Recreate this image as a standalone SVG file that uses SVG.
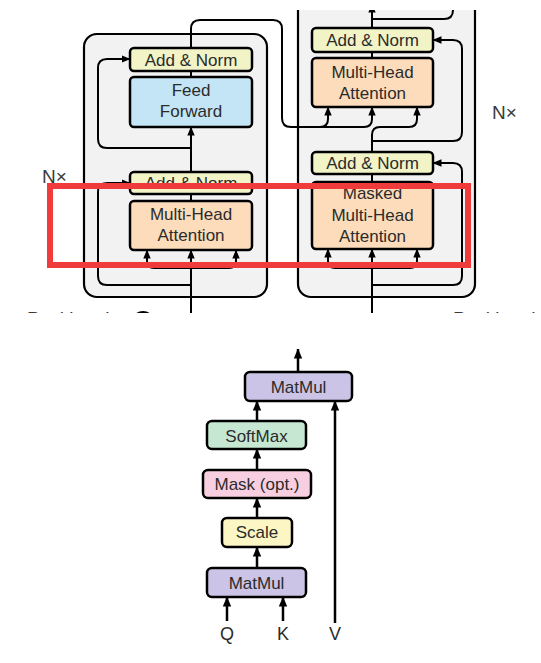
<svg xmlns="http://www.w3.org/2000/svg" width="541" height="663" viewBox="0 0 541 663">
<style>
.box{stroke:#000;stroke-width:2.5}
.outer{fill:#f2f2f2;stroke:#000;stroke-width:2.2}
.an{fill:#f2f4c7}
.ff{fill:#c4e5f5}
.mha{fill:#fcdcbb}
.mm{fill:#ccc4e6}
.sm{fill:#c6e8d3}
.mk{fill:#f8cfe1}
.sc{fill:#fcf6c4}
.ln{fill:none;stroke:#000;stroke-width:2}
.ln2{fill:none;stroke:#000;stroke-width:2.5}
.t{font-family:"Liberation Sans",Arial,sans-serif;font-size:17px;fill:#2b2b2b;text-anchor:middle}
.nx{font-family:"Liberation Sans",Arial,sans-serif;font-size:19px;fill:#3a3a3a}
</style>
<defs>
<marker id="ah" markerUnits="userSpaceOnUse" markerWidth="9" markerHeight="9" viewBox="0 0 9 9" refX="8.5" refY="4.5" orient="auto"><path d="M0,0.8 L9,4.5 L0,8.2 z" fill="#000"/></marker>
<marker id="ah2" markerUnits="userSpaceOnUse" markerWidth="10" markerHeight="10" viewBox="0 0 10 10" refX="9.5" refY="5" orient="auto"><path d="M0,0.8 L10,5 L0,9.2 z" fill="#000"/></marker>
<clipPath id="crop"><rect x="0" y="10" width="541" height="303"/></clipPath>
</defs>
<rect x="0" y="0" width="541" height="663" fill="#fff"/>
<g clip-path="url(#crop)">
<g id="encoder-block"><rect class="outer" x="84" y="34" width="183" height="263" rx="13"/></g>
<g id="decoder-block"><rect class="outer" x="298" y="-20" width="177" height="317" rx="13"/></g>
<g id="connectors-top">
<path class="ln" d="M191,313 L191,250" marker-end="url(#ah)"/>
<path class="ln" d="M191,268 L154,268 Q147,268 147,261 L147,250" marker-end="url(#ah)"/>
<path class="ln" d="M191,268 L229,268 Q236,268 236,261 L236,250" marker-end="url(#ah)"/>
<path class="ln" d="M191,285 L107,285 Q98,285 98,276 L98,192 Q98,183 107,183 L130,183" marker-end="url(#ah)"/>
<path class="ln" d="M191,201 L191,194"/>
<path class="ln" d="M191,172 L191,127" marker-end="url(#ah)"/>
<path class="ln" d="M191,148 L107,148 Q98,148 98,139 L98,68 Q98,59 107,59 L130,59" marker-end="url(#ah)"/>
<path class="ln" d="M191,77 L191,71"/>
<path class="ln" d="M191,48 L191,29 Q191,20 200,20 L273,20 Q282,20 282,29 L282,118 Q282,127 291,127 L320,127 Q328,127 328,119 L328,107" marker-end="url(#ah)"/>
<path class="ln" d="M320,127 L364,127 Q372,127 372,119 L372,107" marker-end="url(#ah)"/>
<path class="ln" d="M372,152 L372,135 Q372,127 380,127 L409,127 Q417,127 417,119 L417,107" marker-end="url(#ah)"/>
<path class="ln" d="M372,141 L453,141 Q462,141 462,132 L462,49 Q462,40 453,40 L433,40" marker-end="url(#ah)"/>
<path class="ln" d="M372,58 L372,52"/>
<path class="ln" d="M372,28 L372,4" marker-end="url(#ah)"/>
<path class="ln" d="M372,19 L444,19 Q453,19 453,10 L453,0"/>
<path class="ln" d="M372,313 L372,249" marker-end="url(#ah)"/>
<path class="ln" d="M372,268 L335,268 Q328,268 328,261 L328,249" marker-end="url(#ah)"/>
<path class="ln" d="M372,268 L410,268 Q417,268 417,261 L417,249" marker-end="url(#ah)"/>
<path class="ln" d="M372,285 L453,285 Q462,285 462,276 L462,172 Q462,163 453,163 L433,163" marker-end="url(#ah)"/>
<path class="ln" d="M372,182 L372,174"/>
<circle class="ln" cx="143" cy="323" r="11"/>
</g>
<g id="enc-addnorm2"><rect class="box an" x="130" y="48" width="122" height="23" rx="4"/><text class="t" x="191" y="66">Add &amp; Norm</text></g>
<g id="enc-ff"><rect class="box ff" x="130" y="77" width="122" height="50" rx="4"/><text class="t" x="191" y="96">Feed</text><text class="t" x="191" y="117">Forward</text></g>
<g id="enc-addnorm1"><rect class="box an" x="130" y="172" width="122" height="22" rx="4"/><text class="t" x="191" y="189">Add &amp; Norm</text></g>
<g id="enc-mha"><rect class="box mha" x="130" y="201" width="122" height="49" rx="4"/><text class="t" x="191" y="220">Multi-Head</text><text class="t" x="191" y="241">Attention</text></g>
<g id="dec-addnorm2"><rect class="box an" x="312" y="28" width="121" height="24" rx="4"/><text class="t" x="372.5" y="46">Add &amp; Norm</text></g>
<g id="dec-mha"><rect class="box mha" x="312" y="58" width="121" height="49" rx="4"/><text class="t" x="372.5" y="78">Multi-Head</text><text class="t" x="372.5" y="99">Attention</text></g>
<g id="dec-addnorm1"><rect class="box an" x="312" y="152" width="121" height="22" rx="4"/><text class="t" x="372.5" y="169">Add &amp; Norm</text></g>
<g id="dec-masked-mha"><rect class="box mha" x="312" y="182" width="121" height="67" rx="4"/><text class="t" x="372.5" y="199">Masked</text><text class="t" x="372.5" y="221">Multi-Head</text><text class="t" x="372.5" y="242">Attention</text></g>
<text class="nx" x="42" y="183">N×</text>
<text class="nx" x="492" y="119">N×</text>
<text class="nx" x="27" y="325">Positional</text>
<text class="nx" x="453" y="325">Positional</text>
</g>
<rect x="50" y="186" width="418" height="79" fill="none" stroke="#ef3b3b" stroke-width="6"/>
<g id="connectors">
<path class="ln2" d="M298,372 L298,349" marker-end="url(#ah2)"/>
<path class="ln2" d="M335,623 L335,401" marker-end="url(#ah2)"/>
<path class="ln2" d="M257,421 L257,401" marker-end="url(#ah2)"/>
<path class="ln2" d="M257,470 L257,449" marker-end="url(#ah2)"/>
<path class="ln2" d="M257,518 L257,498" marker-end="url(#ah2)"/>
<path class="ln2" d="M257,568 L257,547" marker-end="url(#ah2)"/>
<path class="ln2" d="M227,621 L227,597" marker-end="url(#ah2)"/>
<path class="ln2" d="M283,621 L283,597" marker-end="url(#ah2)"/>
</g>
<g id="matmul-top"><rect class="box mm" x="245" y="372" width="107" height="29" rx="5"/><text class="t" x="298.5" y="393">MatMul</text></g>
<g id="softmax"><rect class="box sm" x="207" y="421" width="99" height="28" rx="5"/><text class="t" x="256.5" y="442">SoftMax</text></g>
<g id="mask"><rect class="box mk" x="203" y="470" width="108" height="28" rx="5"/><text class="t" x="257" y="490">Mask (opt.)</text></g>
<g id="scale"><rect class="box sc" x="222" y="518" width="70" height="29" rx="5"/><text class="t" x="257" y="538">Scale</text></g>
<g id="matmul-bottom"><rect class="box mm" x="207" y="568" width="99" height="29" rx="5"/><text class="t" x="256.5" y="589">MatMul</text></g>
<g id="inputs"><text class="t" x="227" y="640" style="font-size:18px">Q</text><text class="t" x="283" y="640" style="font-size:18px">K</text><text class="t" x="335" y="640" style="font-size:18px">V</text></g>
</svg>
